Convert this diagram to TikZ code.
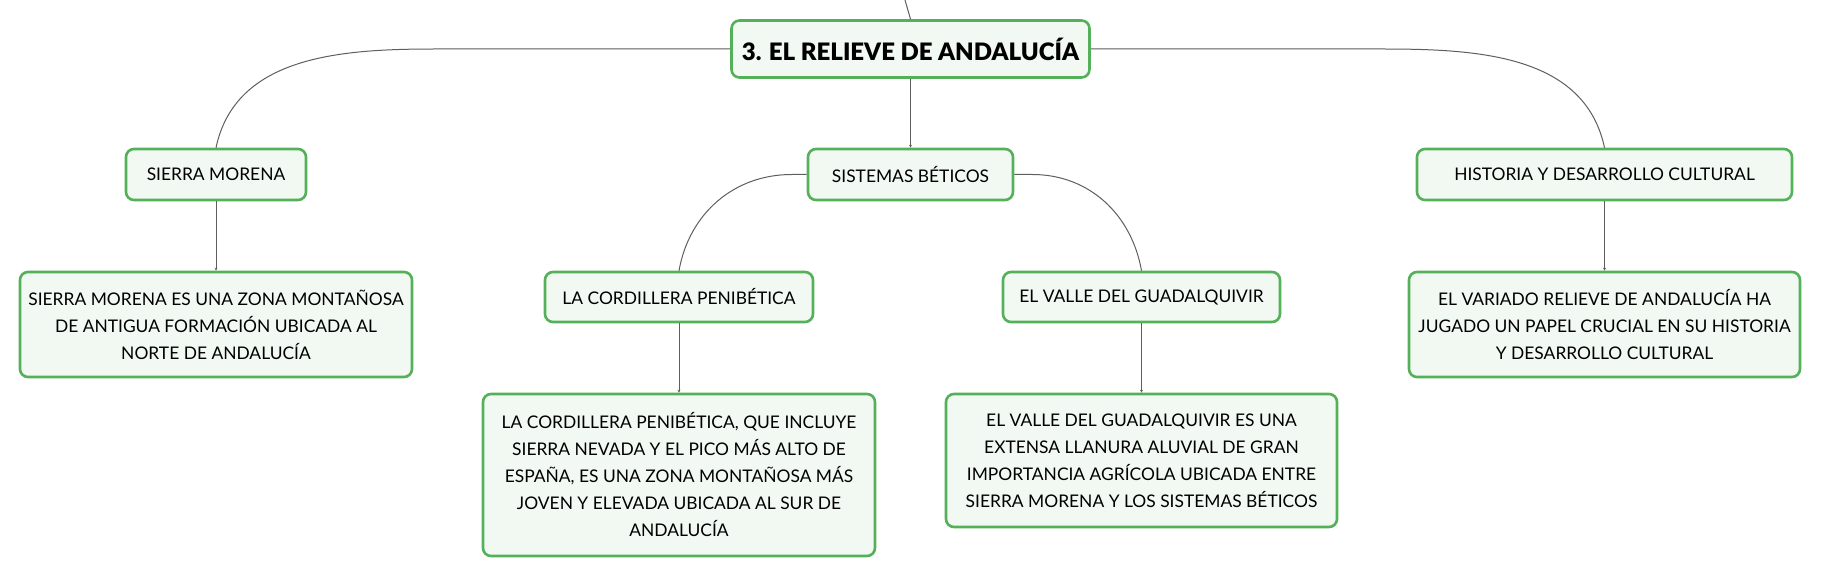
\documentclass[tikz,border=0pt]{standalone}
\usepackage{fontspec}
\setmainfont{Lato}
\IfFontExistsTF{Lato Black}{\newfontfamily\titlefont{Lato Black}}{\newfontfamily\titlefont{Lato}[UprightFont=*-Bold]}
\usetikzlibrary{arrows.meta}
\definecolor{boxgreen}{HTML}{55B05A}
\definecolor{boxfill}{HTML}{F2F9F2}
\definecolor{linkgray}{HTML}{5E5E5E}
\begin{document}
\begin{tikzpicture}[x=1pt,y=1pt,
    box/.style={draw=boxgreen, fill=boxfill, line width=2.6pt, rounded corners=8pt,
      align=center, inner sep=0pt, font=\fontsize{17.4}{27}\selectfont},
    topic/.style={box, font=\fontsize{24}{28}\selectfont\titlefont},
    link/.style={draw=linkgray, line width=1pt},
    tip/.style={link, -{Stealth[length=3pt,width=3pt]}}]
  \useasboundingbox (0,0) rectangle (1821,-577);
  % centre
  \node[topic, minimum width=358, minimum height=57] (main) at (910.5,-49) {3. EL RELIEVE DE ANDALUCÍA};
  \coordinate (top) at (905,0);
  % first level
  \node[box, minimum width=180, minimum height=51] (sm) at (216,-174.5) {SIERRA MORENA};
  \node[box, minimum width=205, minimum height=51] (sis) at (910.5,-174.5) {SISTEMAS BÉTICOS};
  \node[box, minimum width=375, minimum height=51] (hist) at (1604.5,-174.5) {HISTORIA Y DESARROLLO CULTURAL};
  % second level
  \node[box, minimum width=392, minimum height=105] (smtxt) at (216,-324.5)
    {SIERRA MORENA ES UNA ZONA MONTAÑOSA\\DE ANTIGUA FORMACIÓN UBICADA AL\\NORTE DE ANDALUCÍA};
  \node[box, minimum width=268, minimum height=50] (cord) at (679,-297) {LA CORDILLERA PENIBÉTICA};
  \node[box, minimum width=277, minimum height=50] (valle) at (1141.5,-297) {EL VALLE DEL GUADALQUIVIR};
  \node[box, minimum width=391, minimum height=105] (histtxt) at (1604.5,-324.5)
    {EL VARIADO RELIEVE DE ANDALUCÍA HA\\JUGADO UN PAPEL CRUCIAL EN SU HISTORIA\\Y DESARROLLO CULTURAL};
  % third level
  \node[box, minimum width=392, minimum height=162] (cordtxt) at (679,-475)
    {LA CORDILLERA PENIBÉTICA, QUE INCLUYE\\SIERRA NEVADA Y EL PICO MÁS ALTO DE\\ESPAÑA, ES UNA ZONA MONTAÑOSA MÁS\\JOVEN Y ELEVADA UBICADA AL SUR DE\\ANDALUCÍA};
  \node[box, minimum width=391, minimum height=133] (valletxt) at (1141.5,-460.5)
    {EL VALLE DEL GUADALQUIVIR ES UNA\\EXTENSA LLANURA ALUVIAL DE GRAN\\IMPORTANCIA AGRÍCOLA UBICADA ENTRE\\SIERRA MORENA Y LOS SISTEMAS BÉTICOS};
  % connectors
  \draw[link] (top) .. controls (907,-10) .. (main.north);
  \draw[link] (main.west) -- ++(-294,0) to[out=180,in=78] (sm.north);
  \draw[link] (main.east) -- ++(291,0) to[out=0,in=102] (hist.north);
  \draw[tip] (main) -- (sis);
  \draw[link] (sis.west) -- ++(-15,0) to[out=180,in=80] (cord.north);
  \draw[link] (sis.east) -- ++(18,0) to[out=0,in=100] (valle.north);
  \draw[tip] (sm) -- (smtxt);
  \draw[tip] (cord) -- (cordtxt);
  \draw[tip] (valle) -- (valletxt);
  \draw[tip] (hist) -- (histtxt);
\end{tikzpicture}
\end{document}
